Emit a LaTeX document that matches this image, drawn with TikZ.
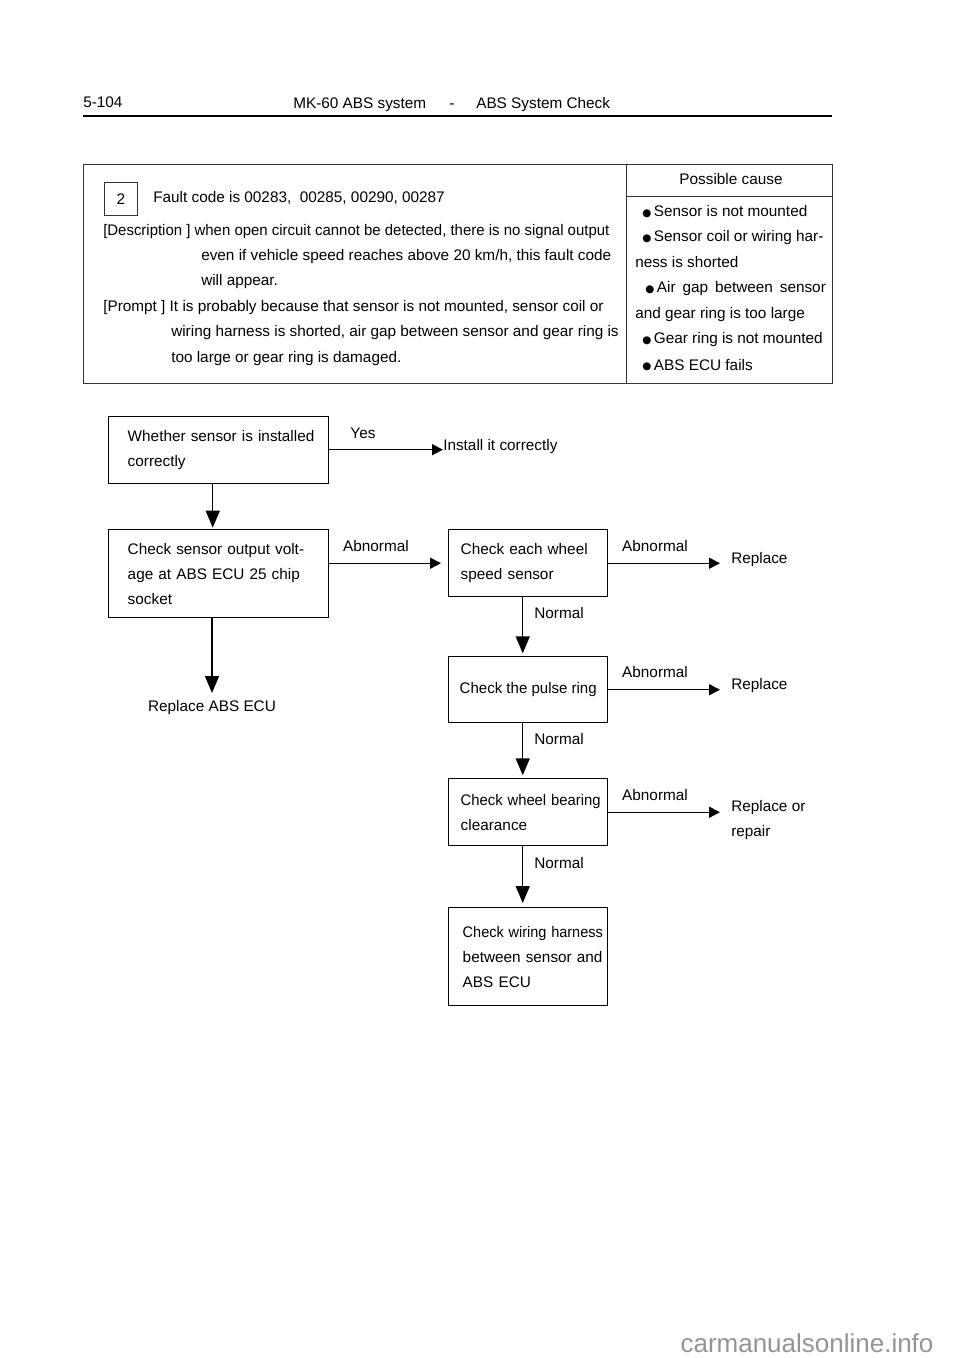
\documentclass[tikz,border=0pt]{standalone}
\usepackage{fontspec}
\setmainfont{Liberation Sans}
\newfontfamily\dejavu{DejaVu Sans}
\usetikzlibrary{arrows.meta}
\newcommand\fs{\fontsize{11.5}{18.75}\selectfont}
\newcommand\blt{\raisebox{0.6pt}{\dejavu\fontsize{7.8}{7.8}\selectfont ●}}
\newcommand\ol[1]{\mbox{#1}}
\begin{document}
\begin{tikzpicture}[x=0.75pt,y=-0.75pt,font=\fs,
  tt/.style={anchor=base west,inner sep=0pt},
  tc/.style={anchor=base,inner sep=0pt},
  lbl/.style={anchor=center,inner sep=0pt},
  box/.style={draw,line width=1.1pt,anchor=north west,inner ysep=0pt,align=left},
  tline/.style={line width=0.65pt,draw=black!80},
  arrd/.style={line width=1.1pt,-{Triangle[length=12.75pt,width=10.5pt]}},
  arrh/.style={line width=1.1pt,-{Triangle[length=8.25pt,width=8.25pt]}}
]
\useasboundingbox (0,0) rectangle (960,1358);
% header
\node[tt] (pg) at (83,107.5) {5-104};
\node[tt] (t1) at (293,108.5) {MK-60 ABS system};
\node[tt] (t2) at (449,108.5) {-};
\node[tt] (t3) at (476,108.5) {ABS System Check};
\draw[line width=1.5pt] (83,116) -- (832,116);
% table
\draw[tline] (83,164) rectangle (832,383);
\draw[tline] (626,164) -- (626,383);
\draw[tline] (626,196) -- (832,196);
\node[tc] (pc) at (731,185) {Possible cause};
\node[draw=black!80,line width=0.65pt,minimum width=24.75pt,minimum height=24.75pt,inner sep=0pt,anchor=north west] (n2) at (104,182) {2};
\node[tt] (fc) at (153,203) {Fault code is 00283,\ \ 00285, 00290, 00287};
\node[tt] (d1) at (103,236) {\scalebox{0.975}[1]{[Description ] when open circuit cannot be detected, there is no signal output}};
\node[tt] (d2) at (201,261) {even if vehicle speed reaches above 20 km/h, this fault code};
\node[tt] (d3) at (201,286) {will appear.};
\node[tt] (p1) at (103,312) {[Prompt ] It is probably because that sensor is not mounted, sensor coil or};
\node[tt] (p2) at (171,337) {wiring harness is shorted, air gap between sensor and gear ring is};
\node[tt] (p3) at (171,363) {too large or gear ring is damaged.};
\node[tt] (c1) at (642,217) {\blt\,Sensor is not mounted};
\node[tt] (c2) at (642,242) {\blt\,Sensor coil or wiring har-};
\node[tt] (c3) at (635,268) {ness is shorted};
\node[tt] (c4) at (645,293) {\blt\,\makebox[126.75pt][s]{Air gap between sensor}};
\node[tt] (c5) at (635,319) {and gear ring is too large};
\node[tt] (c6) at (642,344) {\blt\,Gear ring is not mounted};
\node[tt] (c7) at (642,370) {\blt\,ABS ECU fails};
% flowchart boxes
\node[box,minimum width=165pt,minimum height=50.25pt,text width=136.5pt,inner xsep=14.25pt] (A) at (108,416)
  {\ol{Whether sensor is installed}\\\ol{correctly}};
\node[box,minimum width=165pt,minimum height=66pt,text width=136.5pt,inner xsep=14.25pt] (B) at (108,529)
  {\makebox[137.25pt][s]{Check sensor output volt-}\\\makebox[136pt][s]{age at ABS ECU 25 chip}\\\ol{socket}};
\node[box,minimum width=119.25pt,minimum height=50.25pt,text width=101.25pt,inner xsep=9pt] (C) at (448,529)
  {\makebox[105.75pt][s]{Check each wheel}\\\ol{speed sensor}};
\node[box,minimum width=119.25pt,minimum height=49.5pt,inner xsep=0pt,align=center] (D) at (448,656)
  {\scalebox{0.98}[1]{Check the pulse ring}};
\node[box,minimum width=119.25pt,minimum height=50.25pt,text width=101.25pt,inner xsep=9pt] (E) at (448,778)
  {\ol{\scalebox{0.965}[1]{Check wheel bearing}}\\\ol{clearance}};
\node[box,minimum width=119.25pt,minimum height=73.5pt,text width=98.25pt,inner xsep=10.5pt] (F) at (448,907)
  {\ol{\scalebox{0.945}[1]{Check wiring harness}}\\\ol{between sensor and}\\\ol{ABS ECU}};
% outcome texts
\node[anchor=west,inner sep=0pt] (inst) at (443,447) {Install it correctly};
\node[anchor=west,inner sep=0pt] (r1) at (731,560) {Replace};
\node[anchor=west,inner sep=0pt] (r2) at (731,686) {Replace};
\node[anchor=north west,inner sep=0pt,align=left] (r3) at (731,800) {Replace or\\repair};
\node[anchor=north,inner sep=0pt] (rabs) at (212,700) {Replace ABS ECU};
% labels
\node[lbl] (lyes) at (363,433) {Yes};
\node[lbl] (lab1) at (376,546) {Abnormal};
\node[lbl] (lab2) at (655,546) {Abnormal};
\node[lbl] (lab3) at (655,672) {Abnormal};
\node[lbl] (lab4) at (655,795) {Abnormal};
\node[lbl] (ln1) at (559,613) {Normal};
\node[lbl] (ln2) at (559,739) {Normal};
\node[lbl] (ln3) at (559,863) {Normal};
% connectors
\draw[arrh] ([yshift=0.4pt]A.east) -- ([yshift=0.4pt]A.east -| inst.west);
\draw[arrd] ([xshift=-4.5pt]A.south) -- ([xshift=-4.5pt,yshift=1pt]B.north);
\draw[arrh] (B.east |- C.east) -- ([xshift=-5.25pt]C.west);
\draw[arrd] (rabs.north |- B.south) -- ([yshift=5.25pt]rabs.north);
\draw[arrh] (C.east) -- ([xshift=-8.25pt]C.east -| r1.west);
\draw[arrh] (D.east) -- ([xshift=-8.25pt]D.east -| r2.west);
\draw[arrh] (E.east) -- ([xshift=-8.25pt]E.east -| r3.west);
\draw[arrd] ([xshift=-4.125pt]C.south) -- ([xshift=-4.125pt,yshift=2pt]D.north);
\draw[arrd] ([xshift=-4.125pt]D.south) -- ([xshift=-4.125pt,yshift=2pt]E.north);
\draw[arrd] ([xshift=-4.125pt]E.south) -- ([xshift=-4.125pt,yshift=3pt]F.north);
% watermark
\node[anchor=center,inner sep=0pt,text=black!42,font=\fontsize{19.5}{19.5}\selectfont] (wm) at (807,1343) {carmanualsonline.info};
\end{tikzpicture}
\end{document}
